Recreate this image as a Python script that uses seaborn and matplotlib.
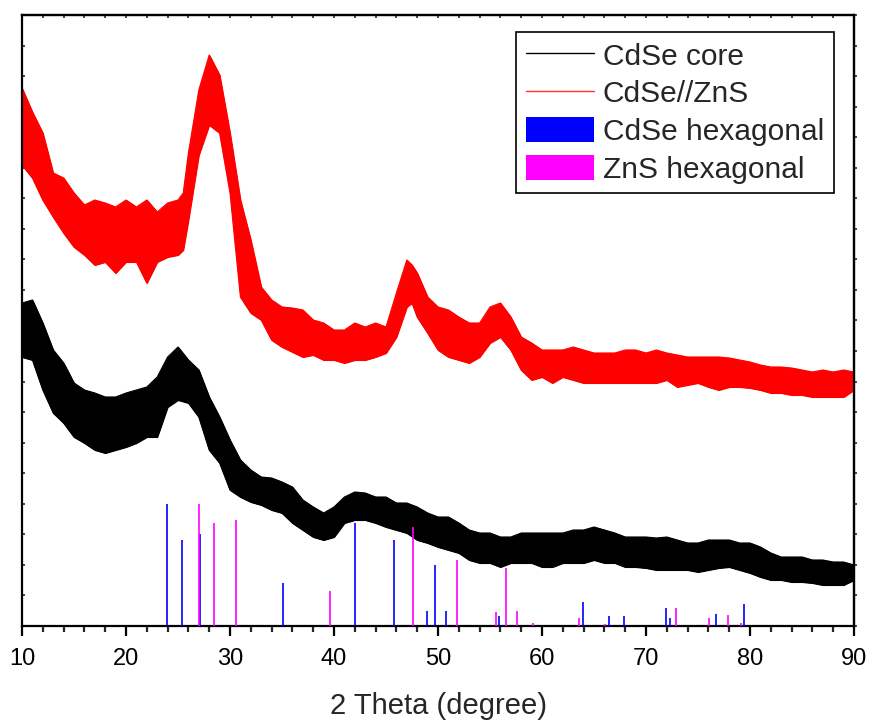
import numpy as np
import matplotlib
matplotlib.use("Agg")
import matplotlib.pyplot as plt
from matplotlib.lines import Line2D
from matplotlib.patches import Patch
from matplotlib.ticker import MultipleLocator
import seaborn as sns
import pandas as pd

# ---- data (intensity in arbitrary units, 0..611) ----
core_theta = list(range(10, 91))
core_upper = [323, 326, 303, 276, 263, 243, 236, 233, 229, 229, 233, 236, 239, 249, 269, 279, 266, 256, 229, 209,
              186, 166, 156, 149, 148, 144, 139, 126, 119, 113, 119, 129, 134, 133, 129, 129, 123, 123, 119, 113,
              109, 109, 103, 96, 93, 93, 89, 89, 93, 93, 93, 93, 93, 96, 96, 99, 96, 93, 89, 89,
              89, 88, 89, 86, 83, 83, 86, 86, 86, 83, 83, 79, 73, 69, 69, 69, 66, 66, 64, 64, 61]
core_lower = [269, 266, 236, 213, 203, 189, 183, 176, 173, 176, 179, 183, 189, 189, 219, 226, 223, 209, 176, 163,
              136, 129, 124, 121, 116, 113, 103, 96, 89, 86, 89, 103, 106, 106, 103, 99, 96, 93, 86, 83,
              79, 76, 73, 66, 63, 63, 59, 63, 63, 63, 59, 59, 63, 63, 63, 66, 63, 63, 59, 59,
              58, 56, 56, 56, 56, 54, 56, 58, 59, 56, 53, 49, 46, 46, 44, 44, 43, 41, 41, 41, 46]

shell_theta = list(range(10, 26)) + [25.5] + list(range(26, 48)) + [47.5] + list(range(48, 91))
shell_upper = [538, 514, 493, 453, 448, 433, 421, 426, 423, 419, 426, 419, 426, 414, 423, 426, 433,
               473, 536, 571, 551, 493, 426, 386, 339, 326, 319, 318, 316, 306, 303, 296, 296, 303, 299, 303, 299, 333, 366,
               361,
               353, 329, 319, 316, 309, 303, 303, 319, 323, 309, 289, 283, 276, 276, 276, 279, 276, 273, 273, 273,
               276, 276, 273, 276, 273, 271, 269, 269, 269, 269, 268, 266, 264, 261, 259, 259, 258, 256, 254, 256,
               254, 256, 254]
shell_lower = [461, 448, 426, 409, 393, 379, 371, 361, 364, 353, 364, 364, 343, 364, 369, 371, 376,
               406, 471, 501, 493, 433, 329, 313, 306, 286, 279, 274, 269, 271, 266, 266, 263, 266, 266, 269, 273, 289, 319,
               323,
               309, 293, 276, 269, 266, 263, 269, 283, 289, 276, 256, 246, 249, 243, 249, 246, 243, 243, 243, 243,
               243, 243, 243, 243, 246, 239, 241, 243, 239, 236, 239, 239, 238, 236, 233, 233, 231, 231, 229, 229,
               229, 229, 236]

cdse_hex_pos = [23.9, 25.4, 27.1, 35.1, 42.0, 45.8, 48.9, 49.7, 50.8, 55.9, 63.9, 66.4, 67.9, 71.9, 72.3, 76.7, 79.4]
cdse_hex_int = [122, 86, 92, 43, 103, 86, 15, 61, 15, 10, 24, 10, 10, 18, 8, 12, 22]
zns_hex_pos = [27.0, 28.5, 30.6, 39.6, 47.6, 51.8, 55.6, 56.5, 57.6, 59.1, 63.6, 66.1, 72.9, 76.1, 77.9, 79.1]
zns_hex_int = [122, 103, 106, 35, 99, 66, 14, 58, 15, 3, 8, 2, 18, 8, 11, 3]

labels = ["CdSe core", "CdSe//ZnS", "CdSe hexagonal", "ZnS hexagonal"]


def main():
    sns.set_theme(style="ticks")
    plt.rcParams['font.family'] = ['Liberation Sans', 'DejaVu Sans']

    fig = plt.figure(figsize=(8.71, 7.22), dpi=100)
    ax = fig.add_axes([22 / 871, 96 / 722, 832 / 871, 611 / 722])

    core = pd.DataFrame({'theta': core_theta, 'upper': core_upper, 'lower': core_lower})
    shell = pd.DataFrame({'theta': shell_theta, 'upper': shell_upper, 'lower': shell_lower})

    # noisy patterns drawn as their envelope bands
    for df, col in [(shell, 'red'), (core, 'black')]:
        ax.fill_between(df['theta'], df['lower'], df['upper'], color=col, lw=0.8, zorder=2)
        sns.lineplot(data=df, x='theta', y='upper', color=col, lw=0.8, ax=ax, zorder=2)
        sns.lineplot(data=df, x='theta', y='lower', color=col, lw=0.8, ax=ax, zorder=2)

    # reference stick patterns
    ax.vlines(cdse_hex_pos, 0, cdse_hex_int, color='blue', lw=1.2, zorder=3)
    ax.vlines(zns_hex_pos, 0, zns_hex_int, color='magenta', lw=1.2, zorder=3)

    ax.set_xlim(10, 90)
    ax.set_ylim(0, 611)
    ax.set_xticks(range(10, 91, 10))
    ax.xaxis.set_minor_locator(MultipleLocator(2))
    ax.set_yticks(np.arange(0, 612, 30.55))
    ax.set_ylabel("")
    ax.set_xlabel("2 Theta (degree)", fontsize=21, labelpad=16)

    for s in ax.spines.values():
        s.set_linewidth(1.6)
        s.set_color('black')
    ax.tick_params(axis='x', which='major', direction='out', length=7.5, width=1.6,
                   labelsize=17, pad=8, colors='black')
    ax.tick_params(axis='x', which='minor', direction='out', length=4.5, width=1.6)
    ax.tick_params(axis='y', which='both', direction='in', length=2.5, width=1.2, labelleft=False)

    secx = ax.secondary_xaxis('top')
    secx.set_xticks(range(10, 91, 2))
    secx.tick_params(direction='in', length=2.5, width=1.2, labeltop=False)
    secx.spines['top'].set_linewidth(1.6)
    secy = ax.secondary_yaxis('right')
    secy.set_yticks(np.arange(0, 612, 30.55))
    secy.tick_params(direction='out', length=2.5, width=1.2, labelright=False)
    secy.spines['right'].set_linewidth(1.6)

    handles = [Line2D([0], [0], color='black', lw=1),
               Line2D([0], [0], color='#ff3030', lw=1),
               Patch(facecolor='blue', edgecolor='none'),
               Patch(facecolor='magenta', edgecolor='none')]
    leg = ax.legend(handles, labels, loc='upper right', bbox_to_anchor=(0.976, 0.972),
                    borderaxespad=0, fontsize=21.5, frameon=True, fancybox=False,
                    edgecolor='black', framealpha=1, handlelength=2.27, handleheight=0.9,
                    handletextpad=0.3, labelspacing=0.3, borderpad=0.33)
    leg.get_frame().set_linewidth(1.2)

    fig.savefig("out.png", dpi=100)


if __name__ == "__main__":
    main()
